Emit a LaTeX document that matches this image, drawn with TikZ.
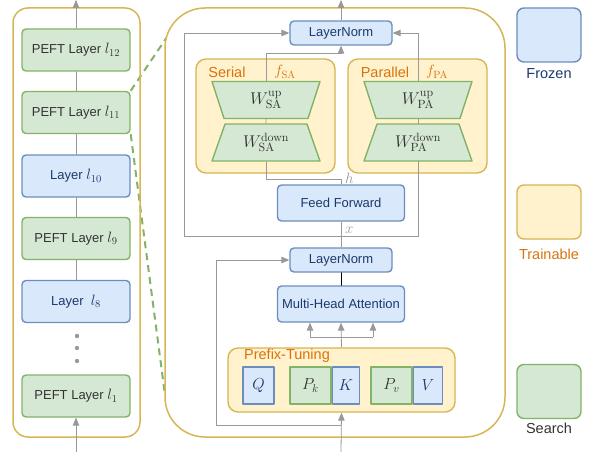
\RequirePackage{fix-cm}
\documentclass[tikz,border=0pt]{standalone}
\usepackage[no-math]{fontspec}
\setmainfont{Liberation Sans}
\usetikzlibrary{arrows}
\usetikzlibrary{positioning}
\usetikzlibrary{shapes.geometric}
\definecolor{frozenfill}{HTML}{DAE8FC}
\definecolor{frozenline}{HTML}{6C8EBF}
\definecolor{searchfill}{HTML}{D5E8D4}
\definecolor{searchline}{HTML}{82B366}
\definecolor{trainfill}{HTML}{FFF2CC}
\definecolor{trainline}{HTML}{D6B656}
\definecolor{navytext}{HTML}{1A3A6B}
\definecolor{orangetext}{HTML}{D9730D}
\definecolor{darktext}{HTML}{333333}
\definecolor{arrowgray}{HTML}{999999}
\pgfdeclarelayer{back}
\pgfdeclarelayer{mid}
\pgfsetlayers{back,mid,main}
\newcommand{\bigmath}[2]{{\fontsize{#1}{#1}\selectfont$#2$}}

\begin{document}
\begin{tikzpicture}[x=1pt,y=-1pt,line cap=round,line join=round,>=triangle 45,
  frozen/.style={draw=frozenline,fill=frozenfill,line width=1.4pt,rounded corners=4pt,text=navytext,font=\fontsize{13}{15}\selectfont,inner sep=0pt},
  search/.style={draw=searchline,fill=searchfill,line width=1.4pt,rounded corners=4pt,text=darktext,font=\fontsize{13}{15}\selectfont,inner sep=0pt},
  train/.style={draw=trainline,fill=trainfill,line width=1.4pt,rounded corners=10pt,inner sep=0pt},
  layerbox/.style={minimum width=108pt,minimum height=42pt},
  normbox/.style={minimum width=102pt,minimum height=24pt},
  blockbox/.style={minimum width=127pt,minimum height=36pt},
  weight/.style={search,trapezium,trapezium stretches body,trapezium angle=55,minimum width=108pt,minimum height=37pt,rounded corners=0pt,text=darktext,font=\fontsize{17}{19}\selectfont},
  cell/.style={minimum height=37pt,rounded corners=0pt,font=\fontsize{16}{18}\selectfont},
  legend/.style={minimum width=64pt,minimum height=54pt,rounded corners=7pt},
  tag/.style={font=\fontsize{14.5}{17}\selectfont,text=orangetext,inner sep=0pt},
  gline/.style={draw=arrowgray,line width=0.8pt},
  zoomline/.style={searchline,line width=2pt,dash pattern=on 7pt off 5pt}]
\useasboundingbox (0,0) rectangle (592,452);

\node[search,layerbox] (l12) at (76,50) {PEFT Layer \bigmath{15}{l_{12}}};
\node[search,layerbox] (l11) at (76,112.5) {PEFT Layer \bigmath{15}{l_{11}}};
\node[frozen,layerbox] (l10) at (76,176) {Layer \bigmath{15}{l_{10}}};
\node[search,layerbox] (l9) at (76,238.5) {PEFT Layer \bigmath{15}{l_{9}}};
\node[frozen,layerbox] (l8) at (76,301.5) {Layer ~\bigmath{15}{l_{8}}};
\node[search,layerbox] (l1) at (76,396) {PEFT Layer \bigmath{15}{l_{1}}};
\coordinate (lefttop) at (76,0);
\coordinate (leftbot) at (76,452);
\draw[gline,->] (l12.north) -- (lefttop);
\draw[gline] (l12.south) -- (l11.north);
\draw[gline] (l11.south) -- (l10.north);
\draw[gline] (l10.south) -- (l9.north);
\draw[gline] (l9.south) -- (l8.north);
\draw[gline,->] (leftbot) -- (l1.south);
\foreach \y in {336,348,361}
  \fill[arrowgray] (77,\y) circle (2.2pt);

\coordinate (zoomtop) at (171,31);
\coordinate (zoombot) at (165,395);
\begin{pgfonlayer}{back}
\draw[zoomline] (l11.north east) -- (zoomtop);
\draw[zoomline] (l11.south east) -- (zoombot);
\draw [draw=trainline,line width=1.5pt,rounded corners=15pt] (13,8) rectangle (140,437);
\draw [draw=trainline,line width=1.5pt,rounded corners=40pt,fill=white] (165,8) rectangle (505,437);
\node[train,minimum width=139pt,minimum height=114pt] (serial) at (265.5,116) {};
\node[train,minimum width=139pt,minimum height=114pt] (parallel) at (417.5,116) {};
\end{pgfonlayer}

\node[frozen,normbox] (ln1) at (341,33) {LayerNorm};
\node[tag] (seriallabel) at (227,72) {Serial};
\node[tag] (fsa) at (285,72) {\bigmath{15}{f_{\mathrm{SA}}}};
\node[tag] (parallellabel) at (385,72) {Parallel};
\node[tag] (fpa) at (437,72) {\bigmath{15}{f_{\mathrm{PA}}}};
\node[weight,shape border rotate=180] (saup) at (266,100) {$W_{\mathrm{SA}}^{\mathrm{up}}$};
\node[weight] (sadown) at (266,142.5) {$W_{\mathrm{SA}}^{\mathrm{down}}$};
\node[weight,shape border rotate=180] (paup) at (418,100) {$W_{\mathrm{PA}}^{\mathrm{up}}$};
\node[weight] (padown) at (418,142.5) {$W_{\mathrm{PA}}^{\mathrm{down}}$};
\node[frozen,blockbox] (ff) at (341,203) {Feed Forward};
\node[frozen,normbox] (ln2) at (341,260) {LayerNorm};
\node[frozen,blockbox] (mha) at (341,304) {Multi-Head Attention};

\node[train,minimum width=227pt,minimum height=64pt] (prefix) at (341.5,380) {};
\node[tag] (prefixlabel) at (287,356) {Prefix-Tuning};
\node[frozen,cell,minimum width=31pt] (q) at (258.5,385.5) {$Q$};
\node[search,cell,minimum width=41pt] (pk) at (310.5,385.5) {$P_k$};
\node[frozen,cell,minimum width=27pt] (k) [right=0pt of pk] {$K$};
\node[search,cell,minimum width=41pt] (pv) at (391.5,385.5) {$P_v$};
\node[frozen,cell,minimum width=29pt] (v) [right=0pt of pv] {$V$};

\coordinate (outtop) at (341,0);
\coordinate (sjoin) at (341,53);
\coordinate (hpt) at (341,179);
\coordinate (xpt) at (341,236);
\coordinate (xleft) at (184,236);
\coordinate (xright) at (418,236);
\coordinate (qleft) at (310,337);
\coordinate (qright) at (373,337);
\coordinate (inbot) at (341,452);
\coordinate (rbot) at (341,425);
\coordinate (rleft) at (216,425);
\begin{pgfonlayer}{mid}
\draw[gline,->] (ln1.north) -- (outtop);
\draw[gline,->] (saup.north) |- (sjoin) -- (ln1.south);
\draw[gline] (saup.south) -- (sadown.north);
\draw[gline] (sadown.south) |- (hpt) -- (ff.north);
\draw[gline] (ff.south) -- (ln2.north);
\draw[gline,->] (xpt) -- (xleft) |- (ln1.west);
\draw[gline,->] (xpt) -- (xright) |- (ln1.east);
\draw[gline,->] (prefix.north) -- (mha.south);
\draw[gline] (qleft) -- (qright);
\draw[gline,->] (qleft) -- (qleft |- mha.south);
\draw[gline,->] (qright) -- (qright |- mha.south);
\draw[gline,->] (inbot) -- (prefix.south);
\draw[gline,->] (rbot) -- (rleft) |- (ln2.west);
\end{pgfonlayer}
\draw[line width=0.8pt] (ln2.south) -- (mha.north);
\node[text=arrowgray,inner sep=1pt,anchor=west] (hlabel) at (344,178) {\bigmath{15}{h}};
\node[text=arrowgray,inner sep=1pt,anchor=west] (xlabel) at (344,230) {\bigmath{15}{x}};

\node[frozen,legend] (frozenkey) at (549,35) {};
\node[text=navytext,font=\fontsize{14.5}{17}\selectfont] (frozenname) at (549,74) {Frozen};
\node[train,legend,rounded corners=7pt] (trainkey) at (549,212) {};
\node[text=orangetext,font=\fontsize{14.5}{17}\selectfont] (trainname) at (549,254) {Trainable};
\node[search,legend] (searchkey) at (549,391.5) {};
\node[text=darktext,font=\fontsize{14.5}{17}\selectfont] (searchname) at (549,428) {Search};
\end{tikzpicture}
\end{document}
